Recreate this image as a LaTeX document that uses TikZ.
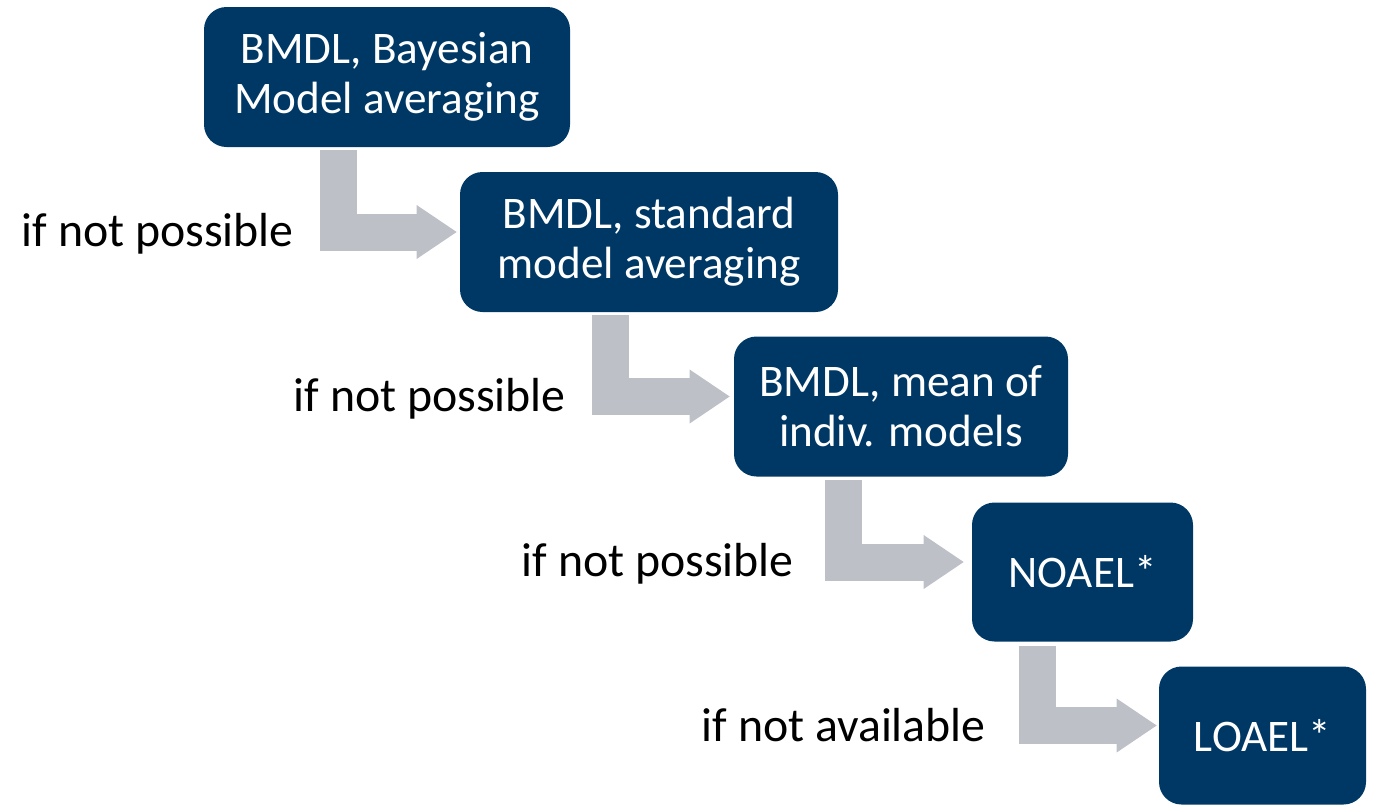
\documentclass[tikz,border=0pt]{standalone}
\usepackage{fontspec}
\setmainfont{Carlito}
\usetikzlibrary{arrows.meta,calc}

\begin{document}
\begin{tikzpicture}[
	box/.style={fill=boxblue, text=white, rounded corners=0.45cm, align=center, inner sep=0pt,
		minimum height=2.8cm, font=\fontsize{25.7}{28.5}\selectfont},
	flow/.style={draw=arrowgray, line width=0.74cm,
		-{Triangle[length=0.8cm,width=1.08cm,line width=0pt]}},
	note/.style={anchor=base east, font=\fontsize{27.2}{32}\selectfont}]
	\definecolor{boxblue}{RGB}{0,56,101}
	\definecolor{arrowgray}{RGB}{190,192,200}
	\useasboundingbox (0,0) rectangle (27.56,-16.1);
	%% Nodes ------
	\node[box, minimum width=7.32cm] (bma) at (7.74,-1.54) {BMDL, Bayesian\\Model averaging};
	\node[box, minimum width=7.56cm] (sma) at (12.98,-4.84) {BMDL, standard\\model averaging};
	\node[box, minimum width=6.68cm] (mim) at (18.02,-8.13) {BMDL, mean of\\indiv. models};
	\node[box, minimum width=4.42cm, minimum height=2.78cm] (noael) at (21.65,-11.44) {NOAEL*};
	\node[box, minimum width=4.14cm, minimum height=2.76cm] (loael) at (25.25,-14.71) {LOAEL*};
	%% Arrows ---------
	\draw[flow] ($(sma.west |- bma.south)+(-2.43,-0.06)$) |- ($(sma.west)+(-0.06,0.2)$);
	\draw[flow] ($(mim.west |- sma.south)+(-2.46,-0.06)$) |- ($(mim.west)+(-0.08,0.2)$);
	\draw[flow] ($(noael.west |- mim.south)+(-2.57,-0.06)$) |- ($(noael.west)+(-0.16,0.2)$);
	\draw[flow] ($(loael.west |- noael.south)+(-2.42,-0.08)$) |- ($(loael.west)+(-0.04,0.2)$);
	%% Labels ---------
	\node[note] (np1) at (6.00,-4.93) {if not possible};
	\node[note] (np2) at (11.44,-8.23) {if not possible};
	\node[note] (np3) at (16.00,-11.53) {if not possible};
	\node[note] (na4) at (19.84,-14.83) {if not available};
\end{tikzpicture}
\end{document}
